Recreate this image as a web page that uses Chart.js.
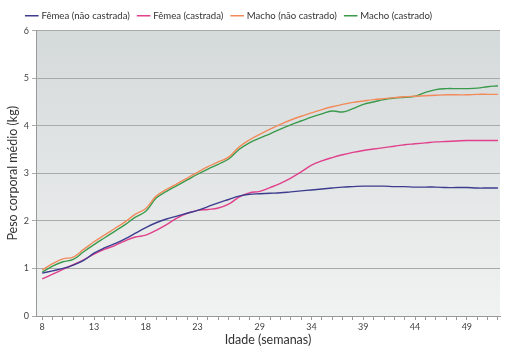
<!DOCTYPE html>
<html>
<head>
<meta charset="utf-8">
<script src="https://cdn.jsdelivr.net/npm/chart.js@4.4.1/dist/chart.umd.min.js"></script>
<style>
  html, body { margin: 0; padding: 0; background: #fff; }
  #wrap { width: 507px; height: 347px; }
</style>
</head>
<body>
<div id="wrap"><canvas id="chart" width="507" height="347"></canvas></div>
<script>
// semanas 8..52
const weeks = [8,9,10,11,12,13,14,15,16,17,18,19,20,21,22,23,24,25,26,27,28,29,30,
  31,32,33,34,35,36,37,38,39,40,41,42,43,44,45,46,47,48,49,50,51,52];
const xTickLabels = [8, 13, 18, 23, 29, 34, 39, 44, 49];

const femeaNaoCastrada = [0.90,0.95,1.00,1.07,1.17,1.32,1.43,1.52,1.62,1.74,1.86,1.96,2.04,2.10,2.16,2.22,
  2.30,2.38,2.45,2.52,2.56,2.57,2.58,2.59,2.61,2.63,2.65,2.67,2.69,2.71,2.72,2.73,2.73,2.73,2.72,2.72,
  2.71,2.71,2.71,2.70,2.70,2.70,2.69,2.69,2.69];
const femeaCastrada = [0.78,0.88,0.98,1.08,1.18,1.30,1.40,1.48,1.58,1.66,1.70,1.80,1.92,2.06,2.16,2.22,
  2.24,2.27,2.35,2.50,2.59,2.62,2.70,2.79,2.90,3.03,3.17,3.26,3.33,3.39,3.44,3.48,3.51,3.54,3.57,3.60,
  3.62,3.64,3.66,3.67,3.68,3.69,3.69,3.69,3.69];
const machoNaoCastrado = [0.97,1.10,1.20,1.24,1.40,1.56,1.70,1.84,1.98,2.14,2.26,2.52,2.66,2.78,2.90,3.02,
  3.14,3.24,3.34,3.55,3.70,3.82,3.93,4.03,4.12,4.20,4.27,4.34,4.40,4.45,4.49,4.52,4.55,4.57,4.59,4.61,
  4.62,4.63,4.64,4.65,4.65,4.65,4.66,4.66,4.66];
const machoCastrado = [0.92,1.05,1.14,1.19,1.35,1.50,1.64,1.78,1.92,2.08,2.20,2.48,2.62,2.74,2.86,2.98,
  3.09,3.19,3.30,3.50,3.64,3.74,3.83,3.93,4.02,4.10,4.18,4.25,4.31,4.29,4.36,4.45,4.50,4.55,4.58,4.60,
  4.62,4.70,4.76,4.78,4.78,4.78,4.79,4.82,4.84];

const seriesNames = ['Fêmea (não castrada)', 'Fêmea (castrada)', 'Macho (não castrado)', 'Macho (castrado)'];
const seriesColors = ['#3d3d8f', '#e0408c', '#f28a5a', '#3a9a4c'];
const seriesValues = [femeaNaoCastrada, femeaCastrada, machoNaoCastrado, machoCastrado];

const FONT = 'Lato, "Open Sans", sans-serif';

// fundo cinza em degradê na área do gráfico
const areaBackground = {
  id: 'areaBackground',
  beforeDraw(chart) {
    const { ctx, chartArea: a } = chart;
    const g = ctx.createLinearGradient(0, a.top, 0, a.bottom);
    g.addColorStop(0, '#d4d9d9');
    g.addColorStop(1, '#f1f2f2');
    ctx.save();
    ctx.fillStyle = g;
    ctx.fillRect(a.left, a.top, a.right - a.left, a.bottom - a.top);
    ctx.restore();
  }
};

// empurra a legenda um pouco para a direita
const legendShift = {
  id: 'legendShift',
  afterLayout(chart) {
    if (chart.legend) chart.legend.left += 18;
  }
};

new Chart(document.getElementById('chart'), {
  type: 'line',
  data: {
    datasets: seriesNames.map((name, i) => ({
      label: name,
      data: weeks.map((w, j) => ({ x: w, y: seriesValues[i][j] })),
      borderColor: seriesColors[i],
      backgroundColor: seriesColors[i],
      borderWidth: 1.4,
      pointRadius: 0,
      tension: 0.4,
      fill: false
    }))
  },
  options: {
    responsive: false,
    animation: false,
    layout: { padding: { top: 2, right: 7, left: 0, bottom: 0 } },
    plugins: {
      legend: {
        position: 'top',
        align: 'start',
        labels: {
          usePointStyle: true,
          pointStyle: 'line',
          boxWidth: 10,
          boxHeight: 10,
          padding: 9,
          color: '#333',
          font: { family: FONT, size: 9.6 }
        }
      },
      tooltip: { enabled: false }
    },
    scales: {
      x: {
        type: 'linear',
        min: 7.4,
        max: 52.2,
        afterBuildTicks(scale) {
          scale.ticks = weeks.map(w => ({ value: w }));
        },
        afterFit(scale) { scale.height = 31; },
        ticks: {
          autoSkip: false,
          maxRotation: 0,
          padding: 2,
          color: '#444',
          font: { family: FONT, size: 9 },
          callback: v => xTickLabels.includes(v) ? String(v) : ''
        },
        grid: { drawOnChartArea: false, tickLength: 4, color: '#999' },
        border: { color: '#999' },
        title: {
          display: true,
          text: 'Idade (semanas)',
          color: '#333',
          font: { family: FONT, size: 12.5 },
          padding: { top: 0, bottom: 0 }
        }
      },
      y: {
        min: 0,
        max: 6,
        afterFit(scale) { scale.width = 36; },
        ticks: {
          stepSize: 1,
          padding: 3,
          color: '#444',
          font: { family: FONT, size: 9 },
          align: 'center'
        },
        grid: { color: '#a9abab', lineWidth: 1, tickLength: 4 },
        border: { color: '#999' },
        title: {
          display: true,
          text: 'Peso corporal médio (kg)',
          color: '#333',
          font: { family: FONT, size: 12.5 },
          padding: { top: 5, bottom: 0 }
        }
      }
    }
  },
  plugins: [areaBackground, legendShift]
});
</script>
</body>
</html>
